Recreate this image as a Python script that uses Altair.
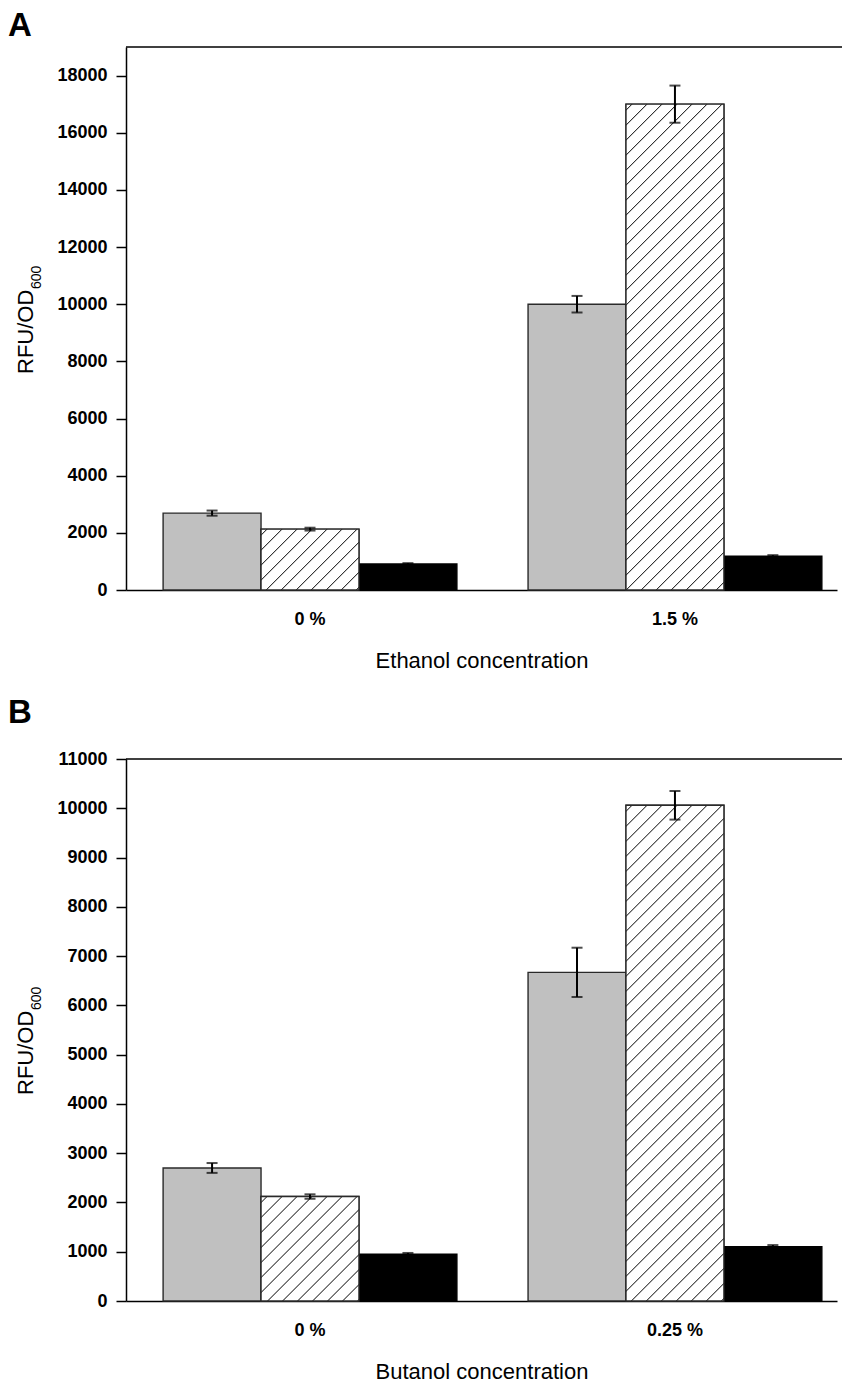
import altair as alt
import pandas as pd

FONT = "Liberation Sans"

series = ["Strain 1", "Strain 2", "Strain 3"]

# Panel A: ethanol
eth_conc = ["0 %", "1.5 %"]
eth_s1 = [2690, 10000]
eth_s1_err = [90, 290]
eth_s2 = [2130, 17000]
eth_s2_err = [50, 650]
eth_s3 = [910, 1180]
eth_s3_err = [30, 40]

# Panel B: butanol
but_conc = ["0 %", "0.25 %"]
but_s1 = [2700, 6670]
but_s1_err = [100, 500]
but_s2 = [2120, 10060]
but_s2_err = [45, 290]
but_s3 = [950, 1100]
but_s3_err = [25, 35]

W = 711
P_IN = 0.195
P_OUT = 0.0716


def make_df(conc, vals, errs):
    rows = []
    for s, v_list, e_list in zip(series, vals, errs):
        for c, v, e in zip(conc, v_list, e_list):
            rows.append({"conc": c, "series": s, "value": v, "lo": v - e, "hi": v + e})
    return pd.DataFrame(rows)


def hatch(w, h, spacing=15.0, half=1.1, phase=6.0):
    T = w + h
    k = T / (w * w + h * h)
    stops = [{"offset": 0, "color": "#ffffff"}]
    c = phase
    while c < T:
        a = max(c - half, 0) / T
        m = c / T
        b = min(c + half, T) / T
        stops += [
            {"offset": a, "color": "#ffffff"},
            {"offset": m, "color": "#151515"},
            {"offset": b, "color": "#ffffff"},
        ]
        c += spacing
    stops.append({"offset": 1, "color": "#ffffff"})
    return {"gradient": "linear", "x1": 0, "y1": 0, "x2": w * k, "y2": h * k, "stops": stops}


def panel(conc, vals, errs, ymax, ytop_tick, step, H, xtitle, letter, letter_y, ytitle_y):
    df = make_df(conc, vals, errs)
    xenc = alt.X(
        "conc:N",
        sort=conc,
        scale=alt.Scale(paddingInner=P_IN, paddingOuter=P_OUT, align=0.71),
        axis=alt.Axis(
            title=xtitle, labelAngle=0, ticks=False, tickSize=0, labelPadding=20,
            labelFontSize=18, labelFontWeight="bold", labelFont=FONT, labelColor="black",
            titleFontSize=22, titleFontWeight="normal", titleFont=FONT, titleColor="black",
            titlePadding=22, domainColor="black", domainWidth=1.5,
        ),
    )
    xoff = alt.XOffset("series:N", sort=series,
                       scale=alt.Scale(domain=series, paddingInner=0, paddingOuter=0))
    yscale = alt.Scale(domain=[0, ymax], nice=False, zero=True)
    yaxis = alt.Axis(
        title=None, values=list(range(0, ytop_tick + 1, step)), format="d", grid=False,
        tickSize=10, tickWidth=1.5, tickColor="black", labelPadding=9,
        labelFontSize=18, labelFontWeight="bold", labelFont=FONT, labelColor="black",
        domainColor="black", domainWidth=1.5,
    )
    base = alt.Chart(df)
    bars = base.mark_bar(strokeWidth=1.4).encode(
        x=xenc, xOffset=xoff,
        y=alt.Y("value:Q", scale=yscale, axis=yaxis),
        fill=alt.Fill("series:N", scale=alt.Scale(domain=series, range=["#c0c0c0", "#ffffff", "#000000"]), legend=None),
        stroke=alt.Stroke("series:N", scale=alt.Scale(domain=series, range=["#2a2a2a", "#2a2a2a", "#000000"]), legend=None),
    )
    layers = [bars]
    step_px = W / (len(conc) - P_IN + 2 * P_OUT)
    bw = step_px * (1 - P_IN) / len(series)
    for c, v in zip(conc, vals[1]):
        h = v / ymax * H
        layers.append(
            base.transform_filter(f"datum.series == '{series[1]}' && datum.conc == '{c}'")
            .mark_bar(fill=hatch(bw, h), stroke="#2a2a2a", strokeWidth=1.4)
            .encode(x=xenc, xOffset=xoff, y=alt.Y("value:Q", scale=yscale, axis=yaxis))
        )
    layers.append(
        base.mark_rule(strokeWidth=2, color="black").encode(
            x=xenc, xOffset=xoff, y=alt.Y("lo:Q", scale=yscale, axis=yaxis), y2="hi:Q")
    )
    for f in ["lo", "hi"]:
        layers.append(
            base.mark_tick(size=11, thickness=2, color="black").encode(
                x=xenc, xOffset=xoff, y=alt.Y(f"{f}:Q", scale=yscale, axis=yaxis))
        )
    # y-axis title with subscript
    layers.append(
        alt.Chart(pd.DataFrame({"t": ["RFU/OD"]})).mark_text(
            angle=270, align="left", baseline="alphabetic", fontSize=22, font=FONT, color="black"
        ).encode(x=alt.value(-93), y=alt.value(ytitle_y), text="t:N")
    )
    layers.append(
        alt.Chart(pd.DataFrame({"t": ["600"]})).mark_text(
            angle=270, align="left", baseline="alphabetic", fontSize=14, font=FONT, color="black"
        ).encode(x=alt.value(-85), y=alt.value(ytitle_y - 85), text="t:N")
    )
    # panel letter
    layers.append(
        alt.Chart(pd.DataFrame({"t": [letter]})).mark_text(
            align="left", baseline="alphabetic", fontSize=33, fontWeight="bold", font=FONT, color="black"
        ).encode(x=alt.value(-118), y=alt.value(letter_y), text="t:N")
    )
    # top frame line
    layers.append(
        alt.Chart(pd.DataFrame({"t": [0]})).mark_rule(color="black", strokeWidth=1.5).encode(
            x=alt.value(0), x2=alt.value(716), y=alt.value(0))
    )
    return alt.layer(*layers).properties(width=W, height=H)


pA = panel(eth_conc, [eth_s1, eth_s2, eth_s3], [eth_s1_err, eth_s2_err, eth_s3_err],
           19000, 18000, 2000, 543, "Ethanol concentration", "A", -11, 327)
pB = panel(but_conc, [but_s1, but_s2, but_s3], [but_s1_err, but_s2_err, but_s3_err],
           11000, 11000, 1000, 542, "Butanol concentration", "B", -36, 336)

chart = alt.vconcat(pA, pB, spacing=26).properties(
    padding={"left": 0, "top": 2, "right": 0, "bottom": 0}
).configure_view(stroke=None)

chart.save("out.html", embed_options={"renderer": "svg", "actions": False})
